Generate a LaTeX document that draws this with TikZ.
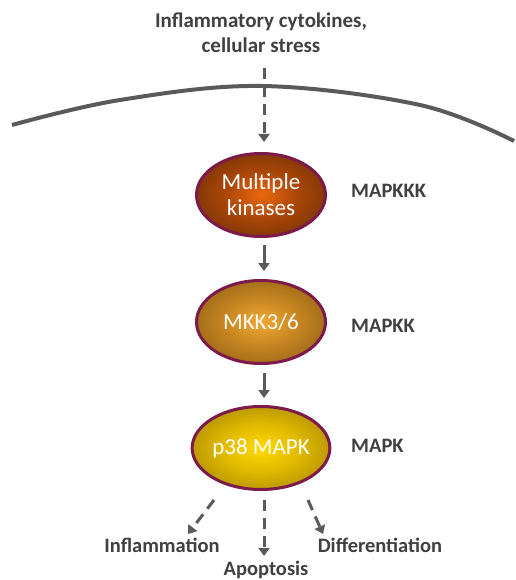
\documentclass[tikz,border=0pt]{standalone}
\usepackage{fontspec}
\setmainfont{Carlito}
\usetikzlibrary{shapes.geometric,arrows.meta}
\definecolor{txtgray}{HTML}{404040}
\definecolor{lngray}{HTML}{5A5A5A}
\definecolor{rim}{HTML}{7B1A4B}
\pgfdeclareradialshading{shOne}{\pgfpoint{0bp}{0bp}}{color(0bp)=(rgb,255:red,235;green,104;blue,12); color(14bp)=(rgb,255:red,170;green,70;blue,8); color(34bp)=(rgb,255:red,105;green,46;blue,4); color(50bp)=(rgb,255:red,80;green,36;blue,4)}
\pgfdeclareradialshading{shTwo}{\pgfpoint{0bp}{0bp}}{color(0bp)=(rgb,255:red,242;green,168;blue,50); color(14bp)=(rgb,255:red,200;green,134;blue,34); color(34bp)=(rgb,255:red,135;green,92;blue,18); color(50bp)=(rgb,255:red,100;green,70;blue,12)}
\pgfdeclareradialshading{shThree}{\pgfpoint{0bp}{0bp}}{color(0bp)=(rgb,255:red,255;green,218;blue,0); color(14bp)=(rgb,255:red,225;green,186;blue,0); color(34bp)=(rgb,255:red,160;green,128;blue,0); color(50bp)=(rgb,255:red,112;green,90;blue,0)}
\tikzset{
  kinase/.style={ellipse, draw=rim, line width=3pt, minimum width=129pt, minimum height=83pt,
    inner sep=0pt, text=white, align=center, font=\fontsize{23}{26}\selectfont},
  lvl/.style={anchor=west, inner sep=0pt, text=txtgray, font=\fontsize{20.5}{24}\selectfont\bfseries},
  outc/.style={anchor=base, inner sep=0pt, text=txtgray, font=\fontsize{20.5}{24}\selectfont\bfseries},
  dasharr/.style={draw=lngray, line width=3pt, dash pattern=on 11pt off 7pt, -{Triangle[width=11pt,length=8pt]}},
  solidarr/.style={draw=lngray, line width=3pt, -{Triangle[width=11pt,length=8pt]}},
  membrane/.style={draw=lngray, line width=4pt}
}
\begin{document}
\begin{tikzpicture}[x=1pt,y=-1pt]
\useasboundingbox (0,0) rectangle (515,580);
% membrane
\draw[membrane] plot[smooth, tension=0.6] coordinates {(12,125) (120,100) (262,86) (420,105) (514,141)};
% source text
\node[align=center, inner sep=0pt, text=txtgray, font=\fontsize{21}{25}\selectfont\bfseries] (src) at (261,33) {Inflammatory cytokines,\\cellular stress};
% kinases
\node[kinase, shading=shOne] (e1) at (261,195) {Multiple\\kinases};
\node[kinase, shading=shTwo] (e2) at (261,322) {MKK3/6};
\node[kinase, shading=shThree] (e3) at (261,448) {p38 MAPK};
% levels
\node[lvl] (l1) at (351,191) {MAPKKK};
\node[lvl] (l2) at (351,326) {MAPKK};
\node[lvl] (l3) at (351,446) {MAPK};
% outcomes
\node[outc] (inf) at (162,552) {Inflammation};
\node[outc] (apo) at (266,575) {Apoptosis};
\node[outc] (dif) at (380,552) {Differentiation};
% arrow end points
\coordinate (t0) at (264,68);
\coordinate (t1) at (264,142);
\coordinate (a1s) at (214,500);
\coordinate (a1e) at (188,534);
\coordinate (a2s) at (264,500);
\coordinate (a2e) at (264,556);
\coordinate (a3s) at (308,500);
\coordinate (a3e) at (323,534);
% connectors
\draw[dasharr] (t0) -- (t1);
\draw[solidarr] ([xshift=3pt,yshift=-7pt]e1.south) -- ([xshift=3pt,yshift=8pt]e2.north);
\draw[solidarr] ([xshift=3pt,yshift=-8pt]e2.south) -- ([xshift=3pt,yshift=7pt]e3.north);
\draw[dasharr] (a1s) -- (a1e);
\draw[dasharr] (a2s) -- (a2e);
\draw[dasharr] (a3s) -- (a3e);
\end{tikzpicture}
\end{document}
